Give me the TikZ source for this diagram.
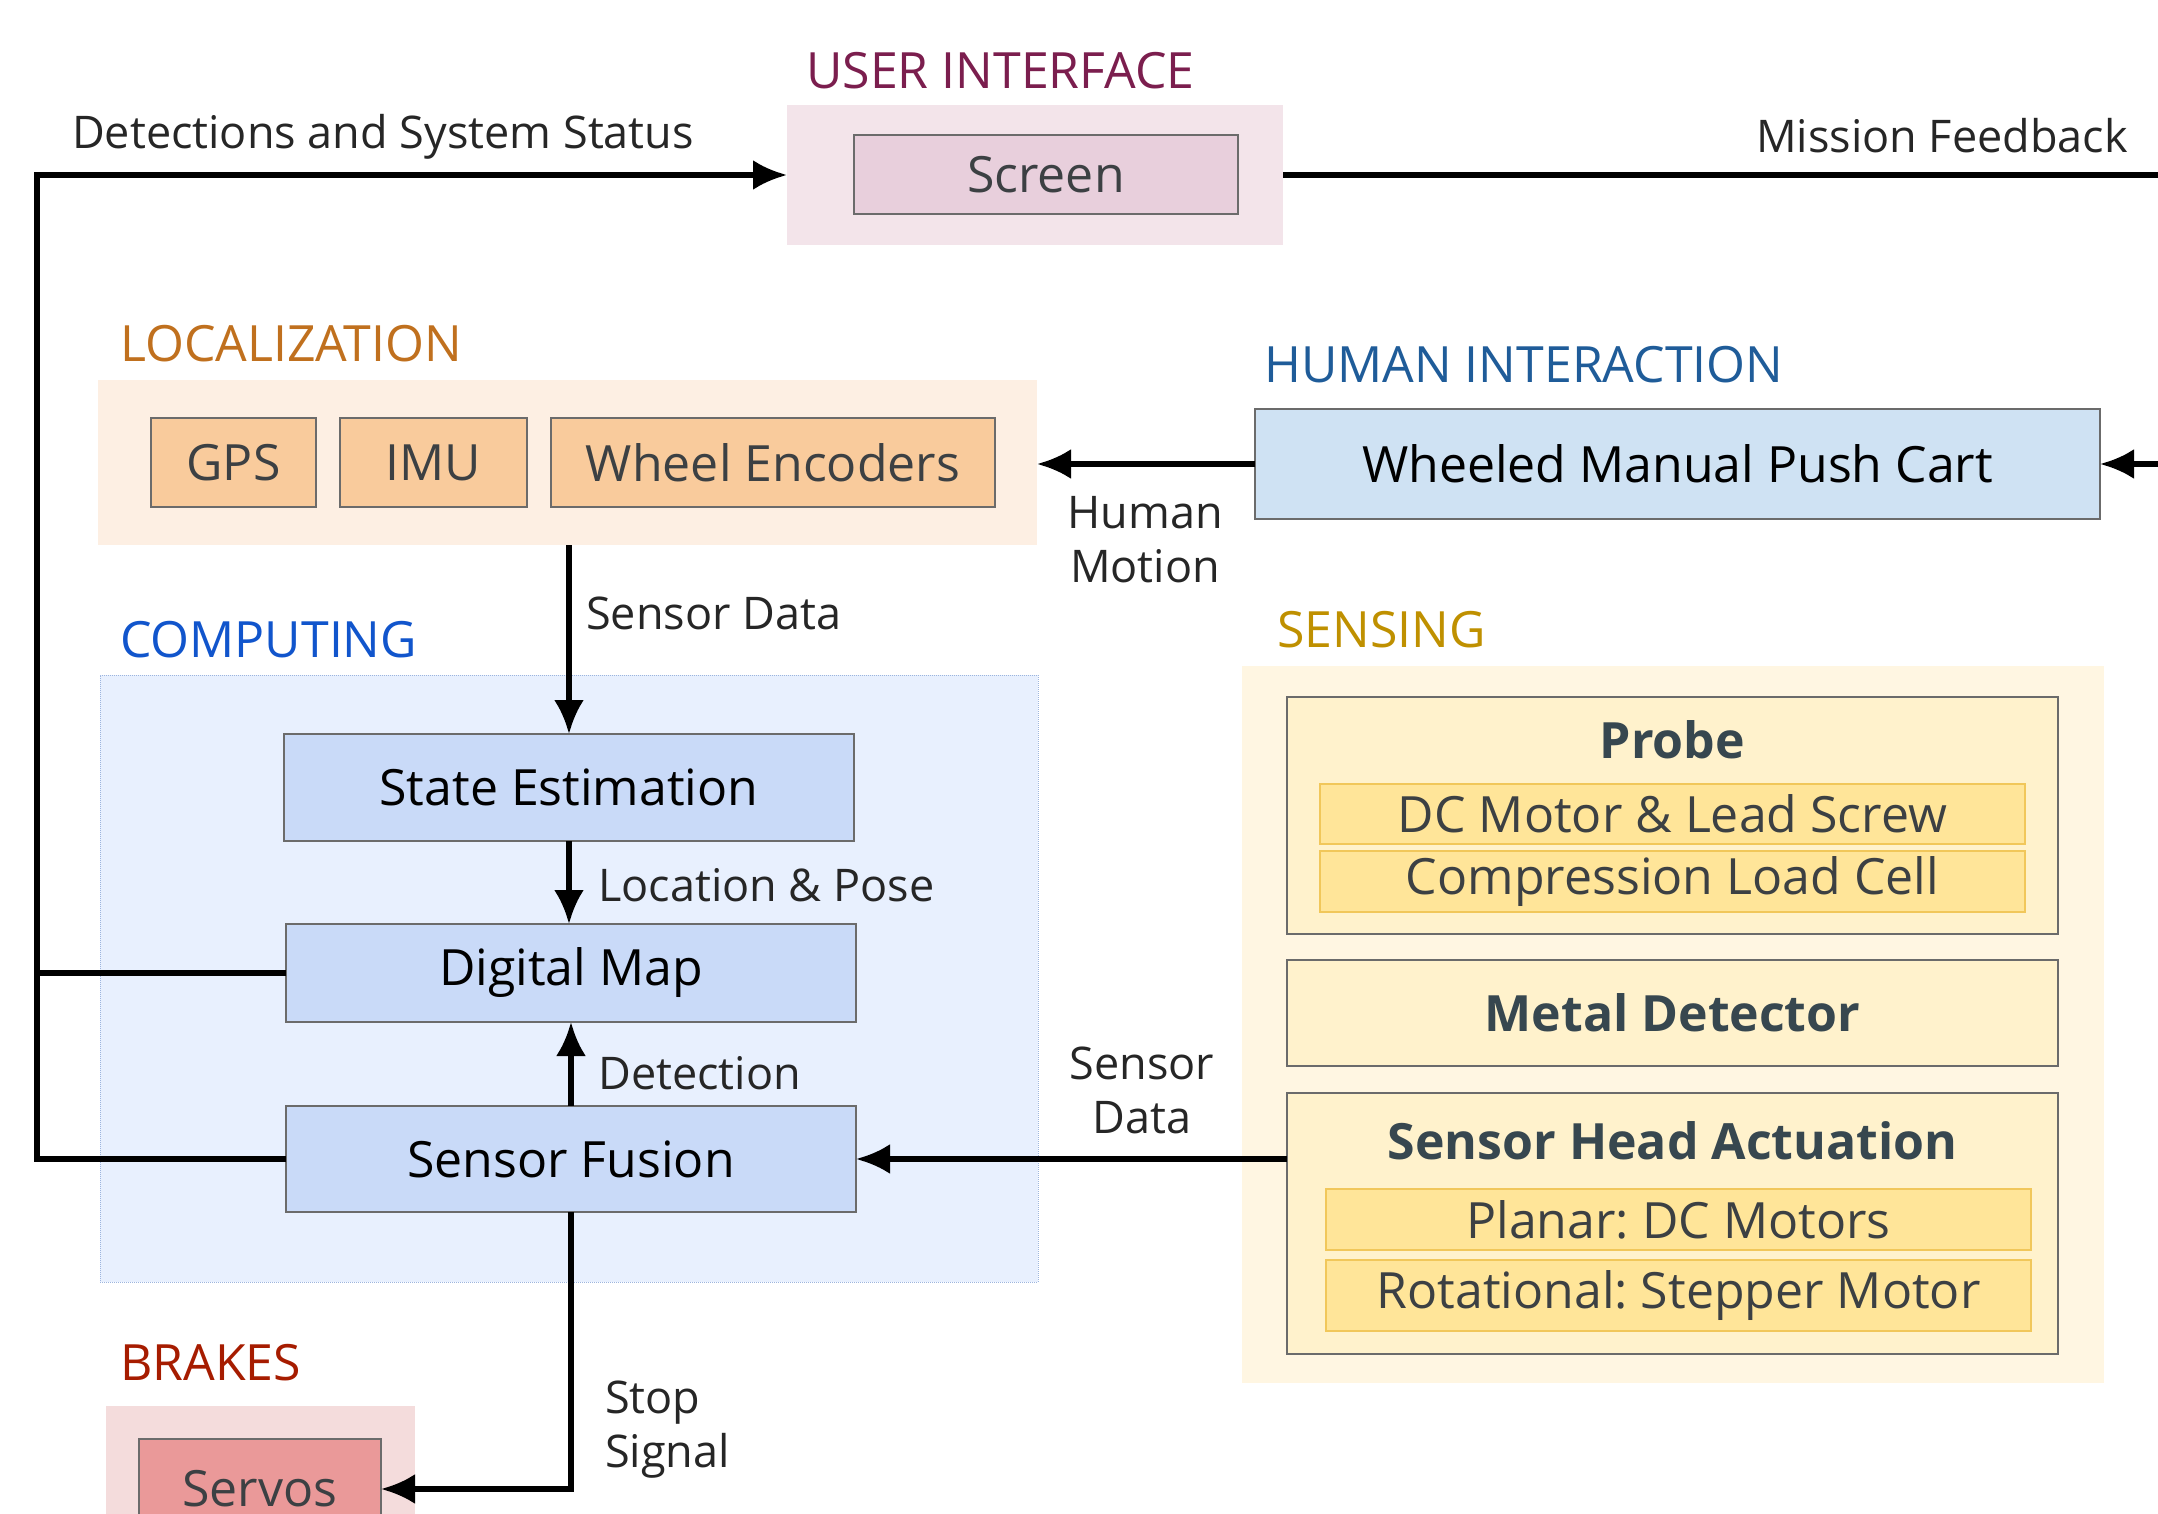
\documentclass[tikz,border=0pt]{standalone}
\usepackage{fontspec}
\setmainfont{Open Sans}
\usetikzlibrary{arrows.meta}
\frenchspacing
\definecolor{uititle}{HTML}{7B1E4E}
\definecolor{uibg}{HTML}{F3E4EA}
\definecolor{uibox}{HTML}{E8CFDC}
\definecolor{loctitle}{HTML}{C0701E}
\definecolor{locbg}{HTML}{FDEFE3}
\definecolor{locbox}{HTML}{F9CB9C}
\definecolor{hititle}{HTML}{1F5C99}
\definecolor{hibox}{HTML}{CFE2F3}
\definecolor{comptitle}{HTML}{1155CC}
\definecolor{compbg}{HTML}{E8F0FE}
\definecolor{compbox}{HTML}{C9DAF8}
\definecolor{compborder}{HTML}{9DB5DE}
\definecolor{senstitle}{HTML}{BF9000}
\definecolor{sensbg}{HTML}{FFF6E2}
\definecolor{sensbox}{HTML}{FFF2CC}
\definecolor{senssub}{HTML}{FFE599}
\definecolor{senssubb}{HTML}{F1C75A}
\definecolor{brtitle}{HTML}{A61C00}
\definecolor{brbg}{HTML}{F4DCDC}
\definecolor{brbox}{HTML}{EA9999}
\definecolor{boxline}{HTML}{6B6B6B}
\definecolor{dtext}{HTML}{37474F}
\definecolor{gtext}{HTML}{3C4043}
\tikzset{
  fs/.style={font=\fontsize{50}{62}\selectfont},
  grp/.style={draw=none, inner sep=0pt, outer sep=0pt},
  blk/.style={draw=boxline, line width=1.5pt, inner sep=0pt, outer sep=0pt, fs},
  sub/.style={draw=senssubb, line width=1.2pt, fill=senssub, inner sep=0pt, outer sep=0pt, fs, text=gtext},
  bld/.style={font=\fontsize{50}{62}\selectfont\bfseries},
  ttl/.style={anchor=west, inner sep=0pt, font=\fontsize{50}{62}\selectfont},
  lbl/.style={inner sep=0pt, font=\fontsize{45}{54}\selectfont, text=black!85},
  con/.style={line width=5.5pt, draw=black},
  arr/.style={con, -{Latex[length=34pt,width=30pt]}},
}
\begin{document}
\begin{tikzpicture}[x=1pt,y=-1pt]
\useasboundingbox (0,0) rectangle (2158,1514);
\clip (0,0) rectangle (2158,1514);

% ---- USER INTERFACE
\node[ttl, text=uititle] (tui) at (806,71) {USER INTERFACE};
\node[grp, fill=uibg, minimum width=496pt, minimum height=140pt] (ui) at (1035,175) {};
\node[blk, fill=uibox, text=gtext, minimum width=384pt, minimum height=79pt] (screen) at (1046,174.5) {Screen};

% ---- LOCALIZATION
\node[ttl, text=loctitle] (tloc) at (120,344) {LOCALIZATION};
\node[grp, fill=locbg, minimum width=939pt, minimum height=165pt] (loc) at (567.5,462.5) {};
\node[blk, fill=locbox, text=gtext, minimum width=165pt, minimum height=89pt] (gps) at (233.5,462.5) {GPS};
\node[blk, fill=locbox, text=gtext, minimum width=187pt, minimum height=89pt] (imu) at (433.5,462.5) {IMU};
\node[blk, fill=locbox, text=gtext, minimum width=444pt, minimum height=89pt] (wenc) at (773,462.5) {Wheel Encoders};

% ---- HUMAN INTERACTION
\node[ttl, text=hititle] (thi) at (1264,365) {HUMAN INTERACTION};
\node[blk, fill=hibox, text=black, minimum width=845pt, minimum height=110pt] (cart) at (1677.5,464) {Wheeled Manual Push Cart};

% ---- COMPUTING
\node[ttl, text=comptitle] (tcomp) at (120,640) {COMPUTING};
\node[grp, fill=compbg, draw=compborder, densely dotted, line width=1pt, minimum width=938pt, minimum height=607pt] (comp) at (569,978.5) {};
\node[blk, fill=compbox, text=black, minimum width=570pt, minimum height=107pt] (se) at (569,787.5) {State Estimation};
\node[blk, fill=compbox, text=black, minimum width=570pt, minimum height=98pt] (dm) at (571,973) {Digital Map};
\node[blk, fill=compbox, text=black, minimum width=570pt, minimum height=106pt] (sf) at (571,1159) {Sensor Fusion};

% ---- SENSING
\node[ttl, text=senstitle] (tsens) at (1277,630) {SENSING};
\node[grp, fill=sensbg, minimum width=862pt, minimum height=717pt] (sens) at (1673,1024.5) {};
\node[blk, fill=sensbox, minimum width=771pt, minimum height=237pt] (probe) at (1672.5,815.5) {};
\node[inner sep=0pt, bld, text=dtext] (tprobe) at (1672.5,740) {Probe};
\node[sub, minimum width=705pt, minimum height=60pt] (dcm) at (1672.5,814) {DC Motor \& Lead Screw};
\node[sub, minimum width=705pt, minimum height=61pt] (clc) at (1672.5,881.5) {Compression Load Cell};
\node[blk, fill=sensbox, text=dtext, bld, minimum width=771pt, minimum height=106pt] (metal) at (1672.5,1013) {Metal Detector};
\node[blk, fill=sensbox, minimum width=771pt, minimum height=261pt] (sha) at (1672.5,1223.5) {};
\node[inner sep=0pt, bld, text=dtext] (tsha) at (1672.5,1141) {Sensor Head Actuation};
\node[sub, minimum width=705pt, minimum height=61pt] (planar) at (1678.5,1219.5) {Planar: DC Motors};
\node[sub, minimum width=705pt, minimum height=71pt] (rot) at (1678.5,1295.5) {Rotational: Stepper Motor};

% ---- BRAKES
\node[ttl, text=brtitle] (tbr) at (120,1363) {BRAKES};
\node[grp, fill=brbg, minimum width=309pt, minimum height=160pt] (br) at (260.5,1486) {};
\node[blk, fill=brbox, text=gtext, minimum width=242pt, minimum height=100pt] (servos) at (260,1489) {Servos};

% ---- connectors
\coordinate (bl) at (37,175);
\coordinate (bdm) at (37,973);
\coordinate (bsf) at (37,1159);
\coordinate (rt) at (2175,175);
\coordinate (rc) at (2175,464);
\coordinate (stopc) at (571,1489);

\draw[arr] (sf.west) -- (bsf) -- (bl) -- (ui.west);
\draw[con] (dm.west) -- (bdm);
\draw[arr] (ui.east) -- (rt) -- (rc) -- (cart.east);
\draw[arr] (cart.west) -- (cart.west -| loc.east);
\draw[arr] (569,545) -- (se.north);
\draw[arr] (se.south) -- (se.south |- dm.north);
\draw[arr] (sf.north) -- (dm.south);
\draw[arr] (sha.west |- sf.east) -- (sf.east);
\draw[arr] (sf.south) -- (stopc) -- (servos.east |- stopc);

% ---- labels
\node[lbl] (ldss) at (383,137) {Detections and System Status};
\node[lbl] (lmf) at (1942,136) {Mission Feedback};
\node[lbl, align=center] (lhm) at (1145,540) {Human\\Motion};
\node[lbl, anchor=west] (lsd1) at (586,613) {Sensor Data};
\node[lbl, anchor=west] (llp) at (598,885) {Location \& Pose};
\node[lbl, anchor=west] (ldet) at (598,1073) {Detection};
\node[lbl, align=center] (lsd2) at (1142,1090) {Sensor\\Data};
\node[lbl, align=left, anchor=west] (lss) at (605,1430) {Stop\\Signal};
\end{tikzpicture}
\end{document}
